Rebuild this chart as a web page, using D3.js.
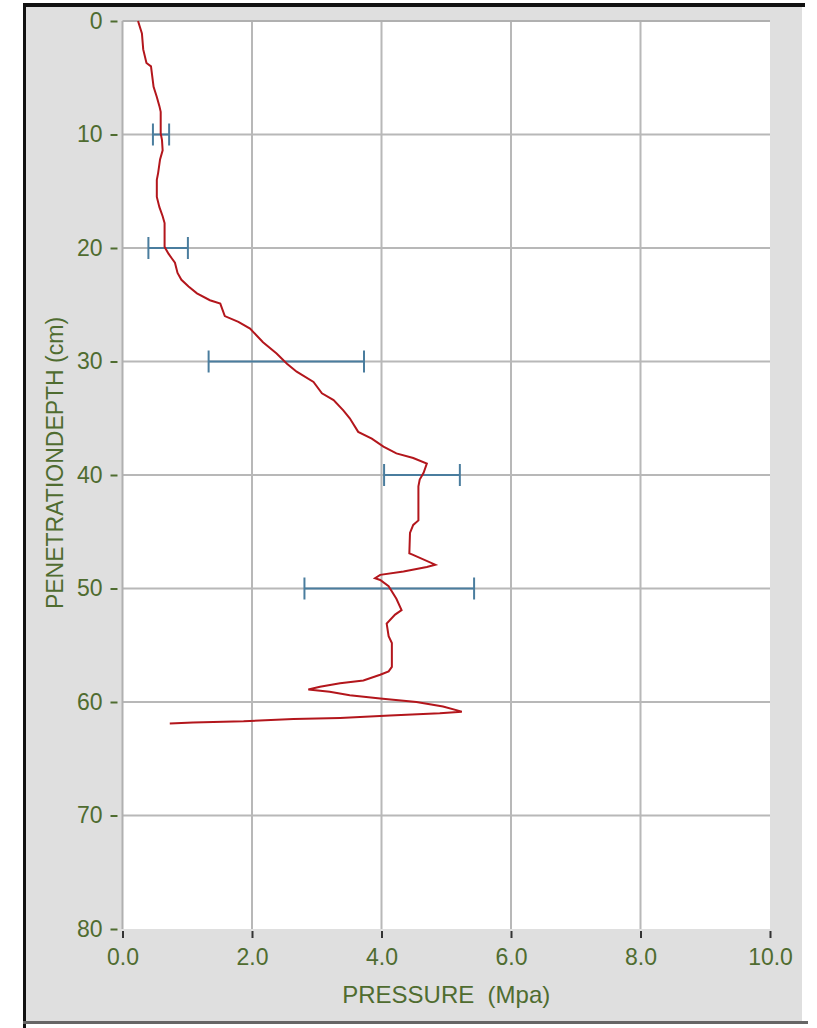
<!DOCTYPE html>
<html>
<head>
<meta charset="utf-8">
<script src="https://cdn.jsdelivr.net/npm/d3@7"></script>
<style>
  html, body { margin: 0; padding: 0; background: #fff; }
  svg { display: block; }
  .chart_label { font-family: "Liberation Sans", Arial, sans-serif; fill: #4f6c30; }
</style>
</head>
<body>
<div id="chart"></div>
<script>
// penetration profile (pressure in MPa at depth in cm)
const depth = [0, 1.1, 2.5, 3.7, 4.0, 5.8, 6.7, 7.5, 8.0, 9.9, 10.5, 11.4, 12.2, 13.4, 14.0, 15.5,
  16.4, 17.2, 17.8, 19.9, 20.5, 20.9, 21.3, 22.2, 22.8, 23.4, 24.0, 24.6, 24.9, 26.0, 26.5, 27.1,
  28.3, 29.3, 30.2, 30.9, 31.8, 32.8, 33.4, 34.3, 35.0, 36.2, 36.8, 37.5, 38.1, 38.5, 39.0, 39.8,
  40.4, 41.0, 44.0, 44.4, 45.1, 46.9, 47.0, 47.9, 48.1, 48.5, 48.8, 49.1, 49.25, 49.8, 50.9, 51.9,
  52.3, 53.1, 54.2, 54.8, 56.9, 57.3, 57.6, 58.1, 58.35, 58.65, 58.9, 59.1, 59.4, 59.7, 60.0, 60.4,
  60.85, 61.0, 61.2, 61.4, 61.5, 61.7, 61.8, 61.9];
const pressure = [0.24, 0.30, 0.32, 0.37, 0.44, 0.48, 0.53, 0.57, 0.59, 0.59, 0.61, 0.62, 0.58, 0.55, 0.53, 0.53,
  0.57, 0.62, 0.65, 0.65, 0.71, 0.76, 0.81, 0.85, 0.91, 1.02, 1.15, 1.35, 1.51, 1.58, 1.79, 1.97,
  2.17, 2.38, 2.54, 2.69, 2.95, 3.08, 3.26, 3.41, 3.51, 3.64, 3.85, 4.03, 4.23, 4.49, 4.70, 4.65,
  4.59, 4.57, 4.57, 4.49, 4.44, 4.43, 4.47, 4.83, 4.70, 4.34, 3.98, 3.90, 3.98, 4.11, 4.23, 4.31,
  4.21, 4.08, 4.11, 4.16, 4.16, 4.11, 3.98, 3.72, 3.36, 3.05, 2.87, 3.20, 3.51, 3.98, 4.54, 4.95,
  5.24, 4.90, 4.13, 3.36, 2.64, 1.87, 1.09, 0.73];

// error bars
const errDepth = [10, 20, 30, 40, 50];
const errLow = [0.47, 0.40, 1.33, 4.04, 2.81];
const errHigh = [0.72, 1.01, 3.73, 5.21, 5.43];

const xTicks = [0, 2, 4, 6, 8, 10];
const yTicks = [0, 10, 20, 30, 40, 50, 60, 70, 80];
const xTitle = "PRESSURE  (Mpa)";
const yTitle = "PENETRATIONDEPTH (cm)";

const W = 817, H = 1028;
const margin = { top: 21, left: 122.5, right: 47, bottom: 99 };
const width = W - margin.left - margin.right;
const height = H - margin.top - margin.bottom;

const svg = d3.select("#chart").append("svg")
  .attr("width", W)
  .attr("height", H);

// window frame
svg.append("rect").attr("x", 26).attr("y", 7).attr("width", 776).attr("height", 1014).attr("fill", "#dfdfdf");
svg.append("rect").attr("x", 23).attr("y", 3).attr("width", 782).attr("height", 4).attr("fill", "#111");
svg.append("rect").attr("x", 23).attr("y", 3).attr("width", 3).attr("height", 1025).attr("fill", "#111");
svg.append("rect").attr("x", 23).attr("y", 1021).attr("width", 785).attr("height", 3).attr("fill", "#666");

const g = svg.append("g")
  .attr("transform", "translate(" + margin.left + "," + margin.top + ")");

const x = d3.scaleLinear().domain([0, 10]).range([0, width]);
const y = d3.scaleLinear().domain([0, 80]).range([0, height]);

g.append("rect").attr("width", width).attr("height", height).attr("fill", "#fff");

// grid
g.selectAll(".hgrid")
  .data(yTicks.filter(d => d > 0 && d < 80))
  .enter().append("line")
    .attr("x1", 0).attr("x2", width)
    .attr("y1", d => y(d)).attr("y2", d => y(d))
    .attr("stroke", "#b8b8b8").attr("stroke-width", 2);
g.selectAll(".vgrid")
  .data(xTicks.filter(d => d > 0 && d < 10))
  .enter().append("line")
    .attr("y1", 0).attr("y2", height)
    .attr("x1", d => x(d)).attr("x2", d => x(d))
    .attr("stroke", "#b8b8b8").attr("stroke-width", 2);
// top and left borders
g.append("line").attr("x1", 0).attr("x2", width).attr("y1", 0).attr("y2", 0)
  .attr("stroke", "#b0b0b0").attr("stroke-width", 2);
g.append("line").attr("x1", 0).attr("x2", 0).attr("y1", 0).attr("y2", height)
  .attr("stroke", "#b0b0b0").attr("stroke-width", 2);

// axes
const yAxis = g.append("g")
  .call(d3.axisLeft(y).tickValues(yTicks).tickFormat(d3.format("d")).tickSize(7).tickPadding(6));
yAxis.select(".domain").remove();
yAxis.selectAll(".tick line").attr("stroke", "#4f6c30").attr("stroke-width", 2).attr("transform", "translate(-5,0)");
yAxis.selectAll(".tick text")
  .attr("class", "chart_label")
  .attr("font-size", 23)
  .attr("x", -20);

const xAxis = g.append("g")
  .attr("transform", "translate(0," + height + ")")
  .call(d3.axisBottom(x).tickValues(xTicks).tickFormat(d3.format(".1f")).tickSize(7).tickPadding(13));
xAxis.select(".domain").remove();
xAxis.selectAll(".tick line").attr("stroke", "#333").attr("stroke-width", 2).attr("transform", "translate(0,2)");
xAxis.selectAll(".tick text")
  .attr("class", "chart_label")
  .attr("font-size", 23);

g.append("text")
  .attr("class", "chart_label")
  .attr("x", width / 2).attr("y", height + 74)
  .attr("text-anchor", "middle")
  .attr("font-size", 24)
  .style("white-space", "pre")
  .text(xTitle);

g.append("text")
  .attr("class", "chart_label")
  .attr("transform", "translate(-59.5," + (height / 2 - 12) + ") rotate(-90)")
  .attr("text-anchor", "middle")
  .attr("font-size", 23)
  .text(yTitle);

// error bars
const errData = errDepth.map((d, i) => ({ d: d, lo: errLow[i], hi: errHigh[i] }));
const eb = g.selectAll(".err").data(errData).enter().append("g")
  .attr("stroke", "#4a7d9e").attr("stroke-width", 2);
eb.append("line")
  .attr("x1", d => x(d.lo)).attr("x2", d => x(d.hi))
  .attr("y1", d => y(d.d)).attr("y2", d => y(d.d));
eb.append("line")
  .attr("x1", d => x(d.lo)).attr("x2", d => x(d.lo))
  .attr("y1", d => y(d.d) - 11).attr("y2", d => y(d.d) + 11);
eb.append("line")
  .attr("x1", d => x(d.hi)).attr("x2", d => x(d.hi))
  .attr("y1", d => y(d.d) - 11).attr("y2", d => y(d.d) + 11);

// profile line
const profile = depth.map((d, i) => ({ d: d, p: pressure[i] }));
const line = d3.line()
  .x(d => x(d.p))
  .y(d => y(d.d));
g.append("path")
  .attr("fill", "none")
  .attr("stroke", "#b3161c")
  .attr("stroke-width", 2)
  .attr("d", line(profile));
</script>
</body>
</html>
